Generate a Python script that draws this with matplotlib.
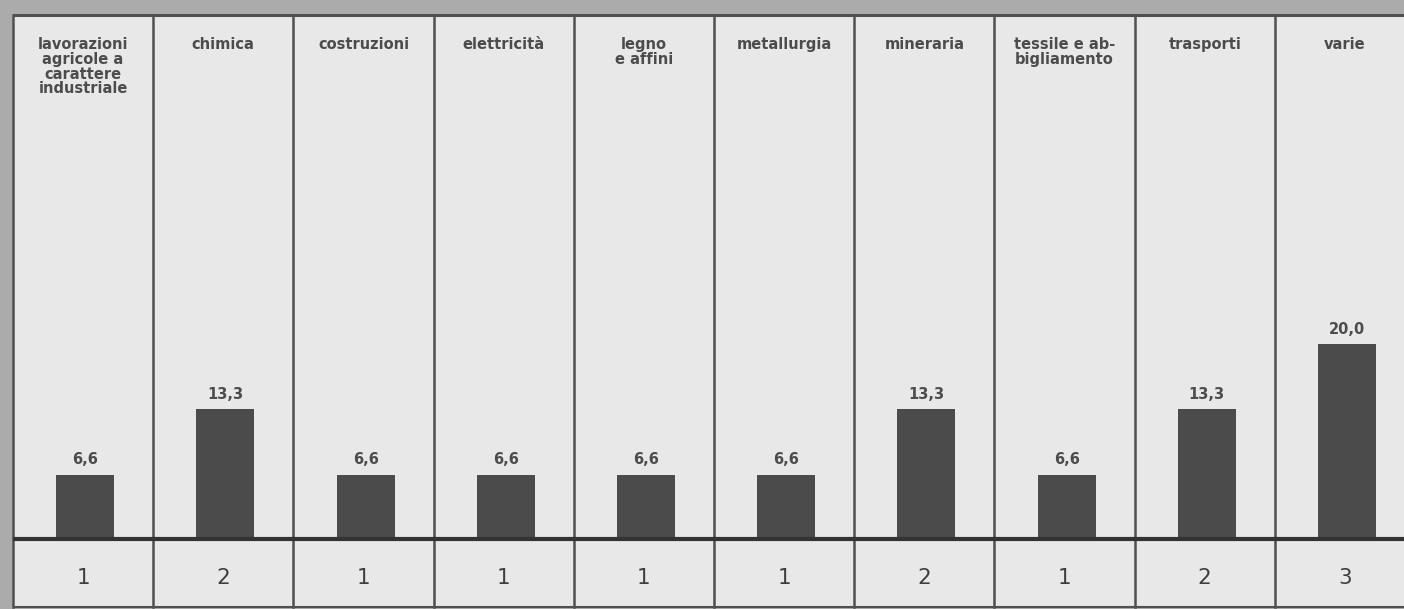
import matplotlib
matplotlib.use("Agg")
import matplotlib.pyplot as plt
from matplotlib.patches import Rectangle

# ---- data ----
categories = [
    "lavorazioni\nagricole a\ncarattere\nindustriale",
    "chimica",
    "costruzioni",
    "elettricità",
    "legno\ne affini",
    "metallurgia",
    "mineraria",
    "tessile e ab-\nbigliamento",
    "trasporti",
    "varie",
]
percent = [6.6, 13.3, 6.6, 6.6, 6.6, 6.6, 13.3, 6.6, 13.3, 20.0]
percent_labels = ["6,6", "13,3", "6,6", "6,6", "6,6", "6,6", "13,3", "6,6", "13,3", "20,0"]
counts = [1, 2, 1, 1, 1, 1, 2, 1, 2, 3]

# ---- geometry (pixels -> data) ----
W, H = 1404, 609
left_px, col_px = 13, 140.2
base_px, ypx = 539, 9.75

def px2y(p):
    return (base_px - p) / ypx

fig = plt.figure(figsize=(W / 100, H / 100), dpi=100, facecolor="#ababab")
ax = fig.add_axes([0, 0, 1, 1])
ax.set_xlim(-0.5 - left_px / col_px, -0.5 + (W - left_px) / col_px)
ax.set_ylim(px2y(H), px2y(0))
ax.axis("off")

n = len(categories)
top_y = px2y(15)
bot_y = px2y(607)
x0 = -0.5
x1 = n - 0.5 + 0.5

line_c = "#505050"
text_c = "#4c4c4c"

# table background
ax.add_patch(Rectangle((x0, bot_y), x1 - x0, top_y - bot_y,
                       facecolor="#e8e8e8", edgecolor="none", zorder=0))

# frame lines
ax.plot([x0, x1], [top_y, top_y], color=line_c, lw=2.2, zorder=3, solid_capstyle="butt")
ax.plot([x0, x1], [bot_y, bot_y], color=line_c, lw=1.5, zorder=3, solid_capstyle="butt")
for i in range(n):
    xb = i - 0.5
    ax.plot([xb, xb], [bot_y, top_y], color=line_c, lw=1.8, zorder=3)
ax.plot([x0, x1], [0, 0], color="#333333", lw=3.0, zorder=4, solid_capstyle="butt")

# bars
xs = list(range(n))
ax.bar([x + 0.015 for x in xs], percent, width=0.414, color="#4b4b4b", zorder=2)

# value labels
for x, v, lab in zip(xs, percent, percent_labels):
    ax.text(x + 0.015, v + 0.75, lab, ha="center", va="bottom", fontsize=10.5,
            fontweight="bold", color=text_c, family="DejaVu Sans", zorder=5)

# headers
for x, c in zip(xs, categories):
    ax.text(x, px2y(37), c, ha="center", va="top", fontsize=10.5,
            fontweight="bold", color=text_c, family="DejaVu Sans",
            linespacing=0.98, zorder=5)

# counts row
for x, c in zip(xs, counts):
    ax.text(x, px2y(578), str(c), ha="center", va="center", fontsize=15.5,
            color="#3e3e3e", family="DejaVu Sans", zorder=5)

fig.savefig("out.png", dpi=100, facecolor=fig.get_facecolor())
